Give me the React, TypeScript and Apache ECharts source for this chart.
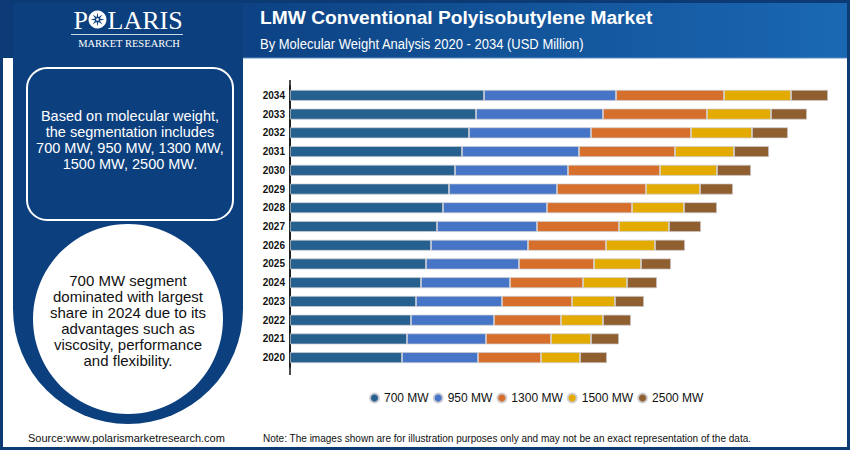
import { useEffect, useRef } from 'react';
import * as echarts from 'echarts';

// Market size by molecular weight, USD Million
const years = ['2020', '2021', '2022', '2023', '2024', '2025', '2026', '2027', '2028', '2029', '2030', '2031', '2032', '2033', '2034'];
const mw700 = [224, 234, 242, 252, 262, 272, 282, 294, 306, 318, 330, 344, 358, 372, 388];
const mw950 = [152, 158, 166, 172, 178, 186, 194, 200, 208, 216, 226, 234, 244, 254, 264];
const mw1300 = [126, 130, 134, 140, 146, 150, 156, 164, 170, 178, 184, 192, 200, 208, 216];
const mw1500 = [78, 80, 84, 86, 88, 94, 98, 100, 104, 108, 114, 118, 122, 128, 134];
const mw2500 = [54, 56, 56, 58, 60, 60, 60, 64, 66, 66, 68, 70, 72, 72, 74];

const segmentNames = ['700 MW', '950 MW', '1300 MW', '1500 MW', '2500 MW'];
const segmentValues = [mw700, mw950, mw1300, mw1500, mw2500];
const segmentColors = ['#26608f', '#4674c6', '#d66f2c', '#e3aa00', '#8f5f2f'];

const NAVY = '#0c3f7e';
const FRAME = '#0b3a75';
const SANS = 'Arial, "Liberation Sans", sans-serif';
const SERIF = '"Liberation Serif", "DejaVu Serif", serif';

function starPoints(cx: number, cy: number, outer: number, inner: number, n: number) {
  const pts: number[][] = [];
  for (let i = 0; i < n * 2; i++) {
    const r = i % 2 === 0 ? outer : inner;
    const a = (Math.PI * i) / n - Math.PI / 2;
    pts.push([cx + r * Math.cos(a), cy + r * Math.sin(a)]);
  }
  return pts;
}

export default function App() {
  const ref = useRef<HTMLDivElement>(null);

  useEffect(() => {
    const chart = echarts.init(ref.current!, null, { renderer: 'svg' });

    const series = segmentNames.map((name, i) => ({
      name,
      type: 'bar',
      stack: 'total',
      barWidth: 11,
      data: segmentValues[i],
      itemStyle: {
        color: segmentColors[i],
        borderColor: 'rgba(205,205,210,0.9)',
        borderWidth: 0.8,
      },
      emphasis: { disabled: true },
    }));

    const option = {
      animation: false,
      backgroundColor: '#ffffff',
      grid: { left: 290, top: 86, width: 550, height: 281 },
      xAxis: { type: 'value', min: 0, max: 1100, show: false },
      yAxis: {
        type: 'category',
        data: years,
        axisLine: { show: true, lineStyle: { color: '#111', width: 1.5 } },
        axisTick: { show: false },
        axisLabel: {
          color: '#111',
          fontWeight: 'bold',
          fontSize: 10,
          fontFamily: SANS,
          margin: 5,
        },
      },
      legend: {
        data: segmentNames,
        left: 369,
        top: 392,
        padding: 0,
        icon: 'circle',
        itemWidth: 9,
        itemHeight: 9,
        itemGap: 4,
        textStyle: { color: '#111', fontSize: 12, fontFamily: SANS },
        selectedMode: false,
      },
      series,
      graphic: [
        // header band
        {
          type: 'rect',
          shape: { x: 0, y: 0, width: 850, height: 58 },
          style: {
            fill: new echarts.graphic.LinearGradient(0, 0, 1, 0, [
              { offset: 0, color: '#0b3a76' },
              { offset: 0.3, color: '#0d4384' },
              { offset: 1, color: '#1a68b3' },
            ]),
          },
        },
        {
          type: 'line',
          shape: { x1: 243, y1: 58, x2: 847, y2: 58 },
          style: { stroke: '#5f8fc6', lineWidth: 1 },
        },
        // left panel with rounded foot
        {
          type: 'rect',
          shape: { x: 13, y: 0, width: 230, height: 424, r: [0, 0, 115, 115] },
          style: { fill: NAVY },
        },
        {
          type: 'rect',
          shape: { x: 27, y: 68, width: 206, height: 152, r: 20 },
          style: { fill: 'transparent', stroke: '#ffffff', lineWidth: 2 },
        },
        {
          type: 'text',
          style: {
            x: 130,
            y: 140,
            text: 'Based on molecular weight,\nthe segmentation includes\n700 MW, 950 MW, 1300 MW,\n1500 MW, 2500 MW.',
            fill: '#ffffff',
            font: '14.5px ' + SANS,
            lineHeight: 16,
            textAlign: 'center',
            textVerticalAlign: 'middle',
          },
        },
        {
          type: 'circle',
          shape: { cx: 128, cy: 319, r: 95 },
          style: { fill: '#ffffff' },
        },
        {
          type: 'text',
          style: {
            x: 128,
            y: 320,
            text: '700 MW segment\ndominated with largest\nshare in 2024 due to its\nadvantages such as\nviscosity, performance\nand flexibility.',
            fill: '#111111',
            font: '15px ' + SANS,
            lineHeight: 16,
            textAlign: 'center',
            textVerticalAlign: 'middle',
          },
        },
        // outer frame
        {
          type: 'rect',
          shape: { x: 1.5, y: 1.5, width: 847, height: 447 },
          style: { fill: 'transparent', stroke: FRAME, lineWidth: 3 },
        },
        // logo
        {
          type: 'text',
          style: {
            x: 88,
            y: 20,
            text: 'P',
            fill: '#ffffff',
            font: '26px ' + SERIF,
            textAlign: 'right',
            textVerticalAlign: 'middle',
          },
        },
        {
          type: 'circle',
          shape: { cx: 97.5, cy: 19.5, r: 9 },
          style: { fill: '#ffffff' },
        },
        {
          type: 'polygon',
          shape: { points: starPoints(97.5, 19.5, 7, 2.4, 8) },
          style: { fill: NAVY },
        },
        {
          type: 'circle',
          shape: { cx: 97.5, cy: 19.5, r: 1.3 },
          style: { fill: '#ffffff' },
        },
        {
          type: 'text',
          style: {
            x: 107.5,
            y: 20,
            text: 'LARIS',
            fill: '#ffffff',
            font: '26px ' + SERIF,
            textAlign: 'left',
            textVerticalAlign: 'middle',
          },
        },
        {
          type: 'line',
          shape: { x1: 71, y1: 34.5, x2: 183, y2: 34.5 },
          style: { stroke: '#c9d6e8', lineWidth: 1 },
        },
        {
          type: 'text',
          style: {
            x: 129,
            y: 43.5,
            text: 'MARKET RESEARCH',
            fill: '#ffffff',
            font: '10.5px ' + SERIF,
            textAlign: 'center',
            textVerticalAlign: 'middle',
          },
        },
        // titles
        {
          type: 'text',
          style: {
            x: 260,
            y: 17.5,
            text: 'LMW Conventional Polyisobutylene Market',
            fill: '#ffffff',
            font: 'bold 19.2px ' + SANS,
            textAlign: 'left',
            textVerticalAlign: 'middle',
          },
        },
        {
          type: 'text',
          x: 260,
          y: 44,
          scaleX: 0.84,
          style: {
            x: 0,
            y: 0,
            text: 'By Molecular Weight Analysis 2020 - 2034 (USD Million)',
            fill: '#ffffff',
            font: '15.5px ' + SANS,
            textAlign: 'left',
            textVerticalAlign: 'middle',
          },
        },
        // category axis line, drawn a little past the bars
        {
          type: 'line',
          shape: { x1: 290, y1: 80, x2: 290, y2: 375 },
          style: { stroke: '#111', lineWidth: 1.5 },
        },
        // footer
        {
          type: 'text',
          style: {
            x: 28,
            y: 437.5,
            text: 'Source:www.polarismarketresearch.com',
            fill: '#111111',
            font: '11px ' + SANS,
            textAlign: 'left',
            textVerticalAlign: 'middle',
          },
        },
        {
          type: 'text',
          x: 263,
          y: 437.5,
          scaleX: 0.873,
          style: {
            x: 0,
            y: 0,
            text: 'Note: The images shown are for illustration purposes only and may not be an exact representation of the data.',
            fill: '#111111',
            font: '11.5px ' + SANS,
            textAlign: 'left',
            textVerticalAlign: 'middle',
          },
        },
      ],
    };

    chart.setOption(option as any);
    return () => chart.dispose();
  }, []);

  return (
    <div
      ref={ref}
      style={{ position: 'absolute', left: 0, top: 0, width: 850, height: 450 }}
    />
  );
}
